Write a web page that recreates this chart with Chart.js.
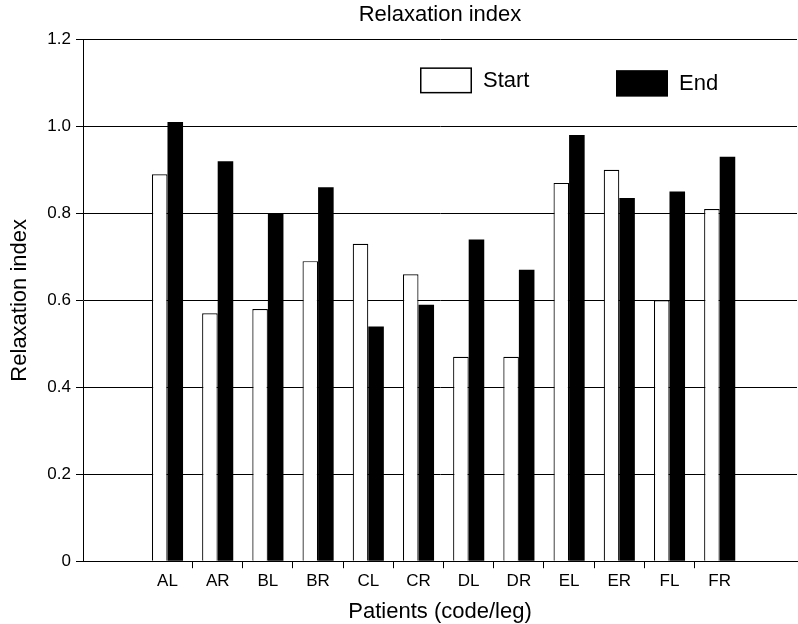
<!DOCTYPE html>
<html>
<head>
<meta charset="utf-8">
<script src="https://cdn.jsdelivr.net/npm/chart.js@4.4.1/dist/chart.umd.min.js"></script>
<style>
  html, body { margin: 0; padding: 0; background: #fff; }
  #wrap { width: 798px; height: 624px; }
</style>
</head>
<body>
<div id="wrap"><canvas id="relaxChart"></canvas></div>
<script>
// Relaxation index per patient (code/leg), at start and at end
const patients = ['AL', 'AR', 'BL', 'BR', 'CL', 'CR', 'DL', 'DR', 'EL', 'ER', 'FL', 'FR'];
const startValues = [0.89, 0.57, 0.58, 0.69, 0.73, 0.66, 0.47, 0.47, 0.87, 0.90, 0.60, 0.81];
const endValues = [1.01, 0.92, 0.80, 0.86, 0.54, 0.59, 0.74, 0.67, 0.98, 0.835, 0.85, 0.93];
const yTicks = [0, 0.2, 0.4, 0.6, 0.8, 1.0, 1.2];
const yTickLabels = ['0', '0.2', '0.4', '0.6', '0.8', '1.0', '1.2'];

const INK = '#000';
const FONT = '"Liberation Sans", Arial, Helvetica, sans-serif';

// legend sits inside the plot area in the original figure
const insideLegend = {
    id: 'insideLegend',
    afterDraw: function(chart) {
        const ctx = chart.ctx;
        const area = chart.chartArea;
        const slots = [{ dx: 337, dy: 28 }, { dx: 533, dy: 31 }];
        ctx.save();
        ctx.font = '22px ' + FONT;
        ctx.textBaseline = 'middle';
        chart.data.datasets.forEach(function(ds, i) {
            const x = area.left + slots[i].dx;
            const y = area.top + slots[i].dy;
            ctx.fillStyle = ds.backgroundColor;
            ctx.fillRect(x, y, 52, 26);
            ctx.lineWidth = 1.5;
            ctx.strokeStyle = INK;
            ctx.strokeRect(x + 0.75, y + 0.75, 50.5, 24.5);
            ctx.fillStyle = INK;
            ctx.fillText(ds.label, x + 63, y + 14);
        });
        ctx.restore();
    }
};

function toPoints(values) {
    return values.map(function(v, i) { return { x: i, y: v }; });
}

const ctx = document.getElementById('relaxChart').getContext('2d');
const relaxChart = new Chart(ctx, {
    type: 'bar',
    data: {
        datasets: [{
            label: 'Start',
            data: toPoints(startValues),
            backgroundColor: '#fff',
            borderColor: INK,
            borderWidth: 1.2,
            categoryPercentage: 0.62,
            barPercentage: 1
        }, {
            label: 'End',
            data: toPoints(endValues),
            backgroundColor: INK,
            borderColor: INK,
            borderWidth: 0,
            categoryPercentage: 0.62,
            barPercentage: 1
        }]
    },
    options: {
        responsive: true,
        maintainAspectRatio: false,
        animation: false,
        layout: {
            padding: { left: 0, right: 1, top: 0, bottom: 0 }
        },
        plugins: {
            legend: { display: false },
            tooltip: { enabled: false },
            title: {
                display: true,
                fullSize: false,
                text: 'Relaxation index',
                color: INK,
                font: { family: FONT, size: 22, weight: 'normal' },
                padding: { top: 2, bottom: 11 }
            }
        },
        scales: {
            x: {
                type: 'linear',
                min: -1.683,
                max: 12.54,
                offset: false,
                afterBuildTicks: function(scale) {
                    scale.ticks = patients.map(function(p, i) { return { value: i }; });
                },
                grid: {
                    offset: true,
                    drawOnChartArea: false,
                    tickLength: 7,
                    color: INK,
                    tickColor: function(c) { return c.index > 0 ? INK : 'transparent'; }
                },
                border: { color: INK, width: 1 },
                ticks: {
                    autoSkip: false,
                    maxRotation: 0,
                    padding: 3,
                    color: INK,
                    font: { family: FONT, size: 17 },
                    callback: function(value) { return patients[value]; }
                },
                title: {
                    display: true,
                    text: 'Patients (code/leg)',
                    color: INK,
                    font: { family: FONT, size: 22 },
                    padding: { top: 4, bottom: -1 }
                }
            },
            y: {
                min: 0,
                max: 1.2,
                afterBuildTicks: function(scale) {
                    scale.ticks = yTicks.map(function(v) { return { value: v }; });
                },
                afterFit: function(scale) {
                    scale.width = 83;
                },
                grid: {
                    color: INK,
                    tickLength: 7
                },
                border: { color: INK, width: 1 },
                ticks: {
                    padding: 5,
                    color: INK,
                    font: { family: FONT, size: 17 },
                    callback: function(value, index) { return yTickLabels[index]; }
                },
                title: {
                    display: true,
                    text: 'Relaxation index',
                    color: INK,
                    font: { family: FONT, size: 22 },
                    padding: { top: 7, bottom: 0 }
                }
            }
        }
    },
    plugins: [insideLegend]
});
</script>
</body>
</html>
